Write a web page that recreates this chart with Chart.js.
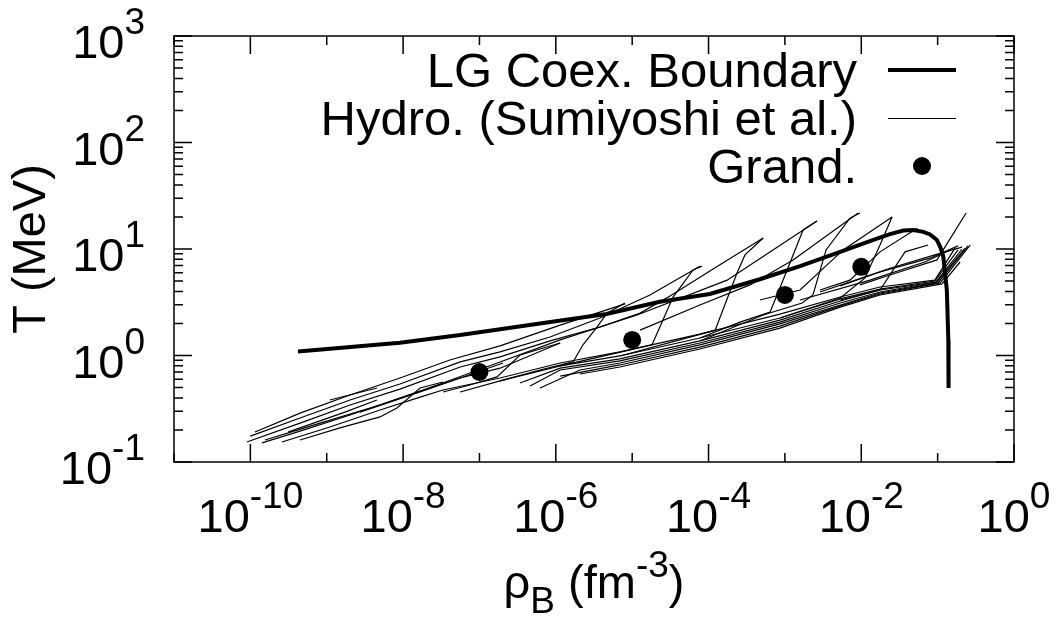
<!DOCTYPE html>
<html>
<head>
<meta charset="utf-8">
<script src="https://cdn.jsdelivr.net/npm/chart.js@4.4.0/dist/chart.umd.min.js"></script>
<style>
  html, body { margin: 0; padding: 0; background: #fff; }
  #wrap { width: 1058px; height: 621px; }
</style>
</head>
<body>
<div id="wrap"><canvas id="phaseChart" width="1058" height="621"></canvas></div>
<script>
// rho_B in fm^-3, T in MeV
const LABEL_BOUNDARY = 'LG Coex. Boundary';
const LABEL_HYDRO = 'Hydro. (Sumiyoshi et al.)';
const LABEL_GRAND = 'Grand.';

const boundaryRho = [4.2e-10, 9.1e-9, 5.6e-8, 6.2e-7, 4.6e-6, 2.3e-5, 1.04e-4, 4.7e-4, 1.58e-3, 5.3e-3,
                     1.44e-2, 2.38e-2, 3.56e-2, 4.8e-2, 6.5e-2, 7.94e-2, 9.73e-2, 0.108, 0.1186, 0.132, 0.138, 0.139];
const boundaryT = [1.09, 1.32, 1.56, 2.0, 2.45, 3.2, 3.78, 5.2, 6.9, 9.4,
                   12.2, 13.8, 14.9, 15.1, 14.5, 13.7, 12.2, 10.5, 8.5, 4.1, 1.4, 0.495];

const grandRho = [1e-7, 1e-5, 1e-3, 1e-2];
const grandT = [0.70, 1.4, 3.7, 6.8];

// hydro trajectories, [rho, T] pairs
const hydroTracks = [
  [[1.15e-10,0.191],[4.47e-10,0.288],[2.02e-9,0.426],[9.1e-9,0.615],[4.1e-8,0.908],[1.86e-7,1.23],[1.14e-6,1.93],[8.05e-6,3.05]],
  [[1.0e-10,0.175],[4.47e-10,0.259],[2.02e-9,0.382],[9.1e-9,0.54],[5.6e-8,0.87],[1.86e-7,1.08],[8.4e-7,1.49],[3.79e-6,2.25],[1.71e-5,3.70],[7.7e-5,6.9]],
  [[9.0e-11,0.154],[4.47e-10,0.232],[2.02e-9,0.343],[9.1e-9,0.484],[5.6e-8,0.78],[1.86e-7,0.97],[8.4e-7,1.37],[3.79e-6,1.85],[1.27e-5,2.50],[3.13e-5,3.62],[1.41e-4,7.1],[5.2e-4,12.7]],
  [[1.42e-10,0.151],[4.47e-10,0.195],[2.02e-9,0.276],[9.1e-9,0.399],[5.6e-8,0.615],[1.86e-7,0.76],[1.14e-6,1.31]],
  [[1.55e-10,0.161],[8.2e-10,0.232],[4.99e-9,0.343],[3.04e-8,0.54],[1.86e-7,0.87],[1.14e-6,1.40],[1.16e-5,2.40],[1.75e-4,5.1],[2.63e-3,18.3]],
  [[2.59e-10,0.154],[1.10e-9,0.213],[4.99e-9,0.308],[1.67e-8,0.407],[3.33e-8,0.474],[1.86e-7,0.615],[1.14e-6,0.85],[6.9e-6,1.08],[7.7e-5,1.59],[8.6e-4,2.45],[5.3e-3,3.54],[1.76e-2,4.4],[9.2e-2,5.1],[0.169,10.2]],
  [[3.11e-10,0.191],[1.73e-9,0.294],[4.55e-9,0.382]],
  [[1.10e-9,0.382],[4.55e-9,0.495]],
  [[4.47e-10,0.161],[1.49e-9,0.209],[4.99e-9,0.265],[8.3e-9,0.321],[1.67e-8,0.495],[3.33e-8,0.564]],
  [[2.73e-9,0.294],[1.67e-8,0.454],[5.6e-8,0.615],[2.04e-7,0.85]],
  [[3.33e-8,0.454],[7.5e-8,0.528],[1.70e-7,0.63],[3.4e-7,1.01],[1.14e-6,1.31]],
  [[1.86e-7,0.577],[6.2e-7,0.731],[1.68e-6,0.87],[2.27e-6,1.26],[3.46e-6,1.85],[4.68e-6,2.50],[8.05e-6,3.11]],
  [[1.14e-6,0.80],[9.4e-6,1.13],[1.82e-5,1.26],[3.43e-5,3.54],[6.27e-5,6.35],[8.2e-5,6.9]],
  [[6.9e-6,0.99],[5.7e-5,1.49],[1.22e-4,1.73],[2.36e-4,5.95],[3.0e-4,8.8],[5.2e-4,12.7]],
  [[7.7e-5,1.46],[2.58e-4,2.06],[6.4e-4,2.56],[1.07e-3,6.35],[1.73e-3,15.1],[2.63e-3,18.3]],
  [[7.7e-5,1.37],[5.2e-4,2.40],[1.68e-3,3.11],[2.33e-3,3.70],[3.46e-3,9.8],[7.1e-3,19.5],[9.6e-3,21.8]],
  [[1.27e-5,1.73],[7.7e-5,2.98],[3.49e-4,4.6],[1.28e-3,7.9],[9.1e-3,21.8]],
  [[8.6e-4,2.25],[5.3e-3,3.47],[1.12e-2,5.35],[1.76e-2,10.9],[2.53e-2,20.0]],
  [[4.7e-4,3.32],[1.58e-3,4.12],[5.8e-3,9.8],[2.53e-2,20.0]],
  [[2.88e-3,4.12],[7.1e-3,5.1],[1.76e-2,9.4],[5.4e-2,15.7]],
  [[5.3e-3,3.32],[1.76e-2,4.12],[3.74e-2,9.4],[7.5e-2,10.9]],
  [[9.6e-3,4.6],[2.38e-2,5.7],[9.8e-2,7.9],[0.236,21.8]],
  [[1.58e-3,3.32],[1.30e-2,5.1],[6.8e-2,7.55],[0.146,9.8]],
  [[2.88e-3,3.95],[1.76e-2,6.1],[7.9e-2,8.2],[0.185,10.7]],
  [[5.3e-3,4.5],[2.38e-2,6.6],[9.2e-2,8.8],[0.209,10.4]],
  // dense lower band
  [[5.6e-8,0.454],[1.86e-7,0.577],[1.14e-6,0.80],[6.9e-6,0.99],[7.7e-5,1.46],[8.6e-4,2.25],[5.3e-3,3.40],[1.76e-2,4.2],[9.2e-2,5.0],[0.185,9.8]],
  [[3.4e-7,0.552],[1.14e-6,0.76],[6.9e-6,0.93],[7.7e-5,1.37],[8.6e-4,2.15],[5.3e-3,3.25],[1.76e-2,4.12],[9.5e-2,4.9],[0.209,10.0]],
  [[4.6e-7,0.517],[1.14e-6,0.731],[6.9e-6,0.89],[7.7e-5,1.31],[8.6e-4,2.06],[5.3e-3,3.11],[1.76e-2,3.95],[9.8e-2,4.9],[0.229,10.2]],
  [[6.2e-7,0.495],[2.07e-6,0.731],[6.9e-6,0.85],[7.7e-5,1.26],[8.6e-4,1.98],[5.3e-3,2.98],[1.76e-2,3.86],[0.101,4.8],[0.25,10.7]],
  [[1.14e-6,0.64],[6.9e-6,0.815],[7.7e-5,1.20],[8.6e-4,1.89],[5.3e-3,2.92],[1.76e-2,3.78],[0.108,4.8],[0.266,10.9]],
  [[2.07e-6,0.67],[6.9e-6,0.78],[7.7e-5,1.15],[8.6e-4,1.81],[5.3e-3,2.85],[1.76e-2,3.70],[0.114,4.7],[0.197,7.55]]
];

const xMajorTicks = [1e-10, 1e-8, 1e-6, 1e-4, 1e-2, 1];
const xMajorExp = ['-10', '-8', '-6', '-4', '-2', '0'];
const xMinorTicks = [1e-11, 1e-9, 1e-7, 1e-5, 1e-3, 1e-1];
const yMajorTicks = [0.1, 1, 10, 100, 1000];
const yMajorExp = ['-1', '0', '1', '2', '3'];
const yMinorSteps = [2, 3, 4, 5, 6, 7, 8, 9];

const FONT = '"Liberation Sans", Arial, Helvetica, sans-serif';
const BIG = 47, SMALL = 37, KEY = 49;

function drawPower(ctx, x, base, exp, align) {
  ctx.font = BIG + 'px ' + FONT;
  const wb = ctx.measureText('10').width;
  ctx.font = SMALL + 'px ' + FONT;
  const we = ctx.measureText(exp).width;
  const left = align === 'center' ? x - (wb + we) / 2 : x - (wb + we);
  ctx.textAlign = 'left';
  ctx.textBaseline = 'alphabetic';
  ctx.font = BIG + 'px ' + FONT;
  ctx.fillText('10', left, base);
  ctx.font = SMALL + 'px ' + FONT;
  ctx.fillText(exp, left + wb, base - 24);
}

const gnuplotFrame = {
  id: 'gnuplotFrame',
  afterDatasetsDraw(chart) {
    const { ctx, chartArea: a, scales: { x, y } } = chart;
    ctx.save();
    ctx.strokeStyle = '#000';
    ctx.fillStyle = '#000';
    ctx.lineWidth = 1.5;
    ctx.strokeRect(a.left, a.top, a.right - a.left, a.bottom - a.top);

    ctx.beginPath();
    const xTick = (v, len) => {
      const px = x.getPixelForValue(v);
      ctx.moveTo(px, a.bottom); ctx.lineTo(px, a.bottom - len);
      ctx.moveTo(px, a.top); ctx.lineTo(px, a.top + len);
    };
    const yTick = (v, len) => {
      const py = y.getPixelForValue(v);
      ctx.moveTo(a.left, py); ctx.lineTo(a.left + len, py);
      ctx.moveTo(a.right, py); ctx.lineTo(a.right - len, py);
    };
    xMajorTicks.forEach(v => xTick(v, 18));
    xMinorTicks.forEach(v => xTick(v, 9));
    yMajorTicks.forEach(v => yTick(v, 18));
    yMajorTicks.slice(0, -1).forEach(d => yMinorSteps.forEach(m => yTick(d * m, 9)));
    ctx.stroke();

    xMajorTicks.forEach((v, i) => drawPower(ctx, x.getPixelForValue(v), a.bottom + 70, xMajorExp[i], 'center'));
    yMajorTicks.forEach((v, i) => drawPower(ctx, 145, y.getPixelForValue(v) + 22, yMajorExp[i], 'right'));

    // y title
    ctx.save();
    ctx.translate(32, (a.top + a.bottom) / 2);
    ctx.rotate(-Math.PI / 2);
    ctx.font = BIG + 'px ' + FONT;
    ctx.textAlign = 'center';
    ctx.textBaseline = 'middle';
    ctx.fillText('T (MeV)', 0, 0);
    ctx.restore();

    // x title: rho_B (fm^-3)
    const parts = [
      { t: 'ρ', size: BIG, dy: 0 },
      { t: 'B', size: SMALL, dy: 15 },
      { t: ' (fm', size: BIG, dy: 0 },
      { t: '-3', size: SMALL, dy: -21 },
      { t: ')', size: BIG, dy: 0 }
    ];
    let total = 0;
    parts.forEach(p => { ctx.font = p.size + 'px ' + FONT; p.w = ctx.measureText(p.t).width; total += p.w; });
    let cx = (a.left + a.right) / 2 - total / 2;
    ctx.textAlign = 'left';
    ctx.textBaseline = 'alphabetic';
    parts.forEach(p => { ctx.font = p.size + 'px ' + FONT; ctx.fillText(p.t, cx, 598 + p.dy); cx += p.w; });

    // key
    const rows = [LABEL_BOUNDARY, LABEL_HYDRO, LABEL_GRAND];
    rows.forEach((label, i) => {
      const ds = chart.data.datasets.find(d => d.label === label);
      const ry = 70 + i * 48;
      ctx.font = KEY + 'px ' + FONT;
      ctx.textAlign = 'right';
      ctx.fillText(label, 857, ry + 17);
      if (ds.showLine) {
        const w = Math.max(1, Math.round(ds.borderWidth));
        const ly = w % 2 ? ry + 0.5 : ry;
        ctx.lineWidth = w;
        ctx.beginPath();
        ctx.moveTo(888, ly); ctx.lineTo(956, ly);
        ctx.stroke();
      } else {
        ctx.beginPath();
        ctx.arc(922, ry, ds.pointRadius, 0, Math.PI * 2);
        ctx.fill();
      }
    });
    ctx.restore();
  }
};

const datasets = [
  {
    label: LABEL_GRAND,
    data: grandRho.map((r, i) => ({ x: r, y: grandT[i] })),
    showLine: false,
    pointRadius: 9,
    pointBackgroundColor: '#000',
    pointBorderWidth: 0
  },
  {
    label: LABEL_BOUNDARY,
    data: boundaryRho.map((r, i) => ({ x: r, y: boundaryT[i] })),
    showLine: true,
    borderColor: '#000',
    borderWidth: 4,
    pointRadius: 0,
    tension: 0
  }
];
hydroTracks.forEach(track => {
  datasets.push({
    label: LABEL_HYDRO,
    data: track.map(p => ({ x: p[0], y: p[1] })),
    showLine: true,
    borderColor: '#000',
    borderWidth: 1.2,
    pointRadius: 0,
    tension: 0
  });
});

new Chart(document.getElementById('phaseChart').getContext('2d'), {
  type: 'scatter',
  data: { datasets: datasets },
  options: {
    responsive: false,
    animation: false,
    devicePixelRatio: 1,
    layout: { padding: { left: 174, top: 36, right: 44, bottom: 159 } },
    scales: {
      x: { type: 'logarithmic', min: 1e-11, max: 1, display: false },
      y: { type: 'logarithmic', min: 0.1, max: 1000, display: false }
    },
    plugins: { legend: { display: false }, tooltip: { enabled: false } }
  },
  plugins: [gnuplotFrame]
});
</script>
</body>
</html>
